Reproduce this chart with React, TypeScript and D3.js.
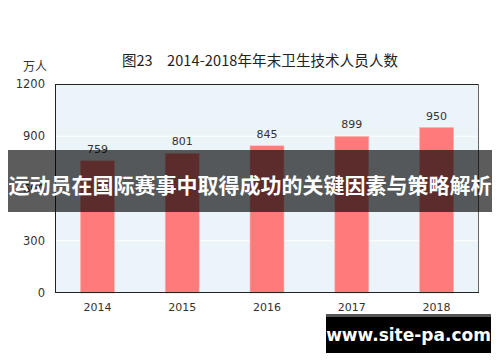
import React from "react";
import * as d3 from "d3";

const years = ["2014", "2015", "2016", "2017", "2018"];
const values = [759, 801, 845, 899, 950];
const yTicks = [0, 300, 600, 900, 1200];
const titleFig = "图23";
const titleText = "2014-2018年年末卫生技术人员人数";
const unitText = "万人";
const bannerText = "运动员在国际赛事中取得成功的关键因素与策略解析";
const watermarkText = "www.site-pa.com";

const W = 500, H = 362;
const M = { left: 55, right: 479, top: 84, bottom: 293 };

export default function App() {
  const x = d3.scaleBand<string>().domain(years).range([M.left, M.right]).paddingInner(0.6).paddingOuter(0.3);
  const y = d3.scaleLinear().domain([0, 1200]).range([M.bottom, M.top]);
  const numFont = "'DejaVu Sans', Verdana, sans-serif";
  const cjk = "'Noto Sans CJK SC', sans-serif";
  return (
    <svg width={W} height={H} style={{ position: "absolute", left: 0, top: 0, background: "#fff" }}>
      <rect x={M.left} y={M.top} width={M.right - M.left} height={M.bottom - M.top} fill="#ebf4f8" />
      {yTicks.filter(t => t > 0 && t < 1200).map(t => (
        <line key={t} x1={M.left} x2={M.right} y1={y(t)} y2={y(t)} stroke="#fff" strokeWidth={1} />
      ))}
      {years.map((yr, i) => (
        <g key={yr}>
          <rect x={x(yr)} y={y(values[i])} width={x.bandwidth()} height={M.bottom - y(values[i])} fill="#ff7b7b" stroke="#ffb0b0" strokeWidth={0.6} />
          <text x={x(yr)! + x.bandwidth() / 2} y={y(values[i]) - 8} textAnchor="middle" fontSize={11} fontFamily={numFont} fill="#333">{values[i]}</text>
          <text x={x(yr)! + x.bandwidth() / 2} y={311} textAnchor="middle" fontSize={11} fontFamily={numFont} fill="#333">{yr}</text>
        </g>
      ))}
      <line x1={M.left} x2={M.right} y1={M.top + 0.5} y2={M.top + 0.5} stroke="#222" strokeWidth={1} />
      <line x1={M.right - 0.5} x2={M.right - 0.5} y1={M.top} y2={M.bottom} stroke="#666" strokeWidth={1} />
      <line x1={M.left + 0.5} x2={M.left + 0.5} y1={M.top} y2={M.bottom} stroke="#222" strokeWidth={1} />
      <line x1={M.left} x2={M.right} y1={M.bottom - 0.5} y2={M.bottom - 0.5} stroke="#222" strokeWidth={1.2} />
      {yTicks.map(t => (
        <text key={t} x={45} y={y(t) + 4} textAnchor="end" fontSize={11.5} fontFamily={numFont} fill="#333">{t}</text>
      ))}
      <text x={35} y={71} textAnchor="middle" fontSize={12} fontFamily={cjk} fill="#333">{unitText}</text>
      <text y={66} fontSize={14.5} fontFamily={cjk} fill="#222">
        <tspan x={122}>{titleFig}</tspan>
        <tspan x={167} textLength={231} lengthAdjust="spacing">{titleText}</tspan>
      </text>
      <rect x={8} y={150} width={484} height={62} fill="rgba(0,0,0,0.64)" />
      <text x={250} y={193} textAnchor="middle" fontSize={21} fontWeight="bold" fontFamily={cjk} fill="#fff">{bannerText}</text>
      <rect x={326} y={314} width={165} height={39} fill="#000" />
      <rect x={326} y={314} width={165} height={3} fill="#555" />
      <text x={408.5} y={341} textAnchor="middle" fontSize={17} fontWeight="bold" fontFamily="'DejaVu Sans', sans-serif" fill="#fff">{watermarkText}</text>
    </svg>
  );
}
